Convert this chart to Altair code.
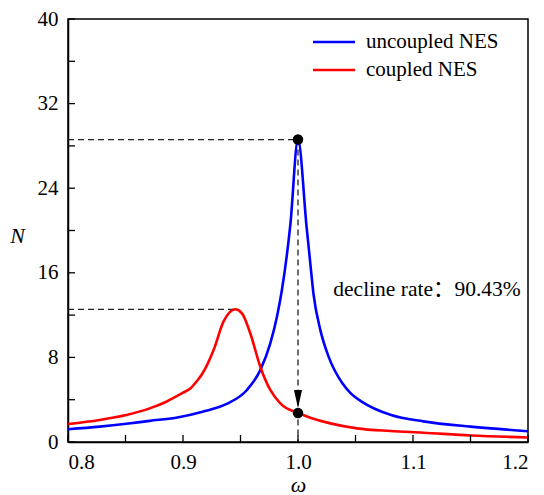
import altair as alt
import pandas as pd

# ---------------- data ----------------
omega_unc = [0.80, 0.8275, 0.8507, 0.871, 0.894, 0.917, 0.938, 0.9556, 0.9672,
             0.9759, 0.9817, 0.986, 0.9933, 1.0, 1.0075, 1.0107, 1.0136, 1.0194,
             1.0266, 1.0383, 1.0455, 1.0557, 1.0810, 1.109, 1.15, 1.20]
N_unc = [1.20, 1.45, 1.72, 2.00, 2.30, 2.87, 3.60, 4.92, 6.80,
         9.33, 11.85, 14.37, 20.5, 28.6, 20.3, 16.9, 13.9, 10.6,
         8.07, 5.60, 4.65, 3.80, 2.55, 1.95, 1.45, 1.02]

omega_cpl = [0.80, 0.8275, 0.8507, 0.871, 0.8855, 0.900, 0.9064, 0.9116, 0.9165, 0.9266,
             0.9353, 0.9455, 0.9513, 0.9585, 0.9672, 0.9759, 0.9846, 1.0, 1.0107,
             1.0281, 1.0513, 1.0803, 1.109, 1.15, 1.20]
N_cpl = [1.70, 2.08, 2.55, 3.18, 3.81, 4.66, 5.05, 5.70, 6.40, 8.70,
         11.4, 12.55, 12.17, 10.28, 7.12, 4.92, 3.66, 2.74, 2.30,
         1.76, 1.29, 1.04, 0.88, 0.62, 0.43]

series_names = ["uncoupled NES", "coupled NES"]
series_colors = ["#0000FF", "#FF0000"]

y_tick_values = [0, 4, 8, 12, 16, 20, 24, 28, 32, 36, 40]
y_label_values = [0, 8, 16, 24, 32, 40]
x_tick_values = [0.8, 0.85, 0.9, 0.95, 1.0, 1.05, 1.1, 1.15, 1.2]
x_label_values = [0.8, 0.9, 1.0, 1.1, 1.2]

annotation_text = "decline rate：90.43%"
annotation_pos = [1.0307, 14.37]

# ---------------- derived tables ----------------
curves = pd.concat([
    pd.DataFrame({"omega": omega_unc, "N": N_unc, "series": series_names[0], "order": range(len(omega_unc))}),
    pd.DataFrame({"omega": omega_cpl, "N": N_cpl, "series": series_names[1], "order": range(len(omega_cpl))}),
])

i_unc = N_unc.index(max(N_unc))
i_cpl = N_cpl.index(max(N_cpl))
peak_unc = (omega_unc[i_unc], N_unc[i_unc])
peak_cpl = (omega_cpl[i_cpl], N_cpl[i_cpl])
cpl_at_res = N_cpl[omega_cpl.index(peak_unc[0])]

dash_df = pd.DataFrame({
    "x": [x_tick_values[0], x_tick_values[0], peak_unc[0]],
    "x2": [peak_unc[0], peak_cpl[0], peak_unc[0]],
    "y": [peak_unc[1], peak_cpl[1], peak_unc[1]],
    "y2": [peak_unc[1], peak_cpl[1], 0],
})
dots_df = pd.DataFrame({"x": [peak_unc[0], peak_unc[0]], "y": [peak_unc[1], cpl_at_res]})
arrow_df = pd.DataFrame({"x": [peak_unc[0]], "y": [cpl_at_res]})
ann_df = pd.DataFrame({"x": [annotation_pos[0]], "y": [annotation_pos[1]], "t": [annotation_text]})
yt_df = pd.DataFrame({"v": y_tick_values})
xt_df = pd.DataFrame({"v": x_tick_values})

W, H = 460, 423
SERIF = "'Liberation Serif', 'Noto Sans CJK SC', serif"

xs = alt.Scale(domain=[0.8, 1.2], nice=False, zero=False)
ys = alt.Scale(domain=[0, 40], nice=False, zero=True)

ax_x = alt.Axis(values=x_label_values, format=".1f", title="ω",
                labelPadding=9, titleX=W / 2, titleY=49,
                titleBaseline="alphabetic", titleAlign="center")
ax_y = alt.Axis(values=y_label_values, title="N", titleAngle=0,
                labelPadding=10, titleX=-51, titleY=216,
                titleAlign="center", titleBaseline="middle")


def X(f):
    return alt.X(f, scale=xs, axis=ax_x, title="ω")


def Y(f):
    return alt.Y(f, scale=ys, axis=ax_y, title="N")


curve_layer = alt.Chart(curves).mark_line(strokeWidth=2.6, interpolate="monotone").encode(
    x=X("omega:Q"),
    y=Y("N:Q"),
    color=alt.Color("series:N", scale=alt.Scale(domain=series_names, range=series_colors), legend=None),
    order="order:Q",
)

dash_layer = alt.Chart(dash_df).mark_rule(color="#222222", strokeWidth=1.3, strokeDash=[6, 4]).encode(
    x=X("x:Q"), x2="x2:Q",
    y=Y("y:Q"), y2="y2:Q",
)

arrow_layer = alt.Chart(arrow_df).mark_point(
    shape="M-0.45,-1L0.45,-1L0,1Z", size=324, filled=True, color="black", opacity=1, yOffset=-14
).encode(x=X("x:Q"), y=Y("y:Q"))

dots_layer = alt.Chart(dots_df).mark_circle(size=110, color="black", opacity=1).encode(
    x=X("x:Q"), y=Y("y:Q"))

ann_layer = alt.Chart(ann_df).mark_text(
    font=SERIF, fontSize=21.5, align="left", baseline="middle", color="black"
).encode(x=X("x:Q"), y=Y("y:Q"), text="t:N")

ytick_layer = alt.Chart(yt_df).mark_rule(color="black", strokeWidth=1.3).encode(
    y=Y("v:Q"), x=alt.value(0), x2=alt.value(7))
xtick_layer = alt.Chart(xt_df).mark_rule(color="black", strokeWidth=1.3).encode(
    x=X("v:Q"), y=alt.value(H), y2=alt.value(H - 7))

# manual legend
leg = []
for i, (name, col) in enumerate(zip(series_names, series_colors)):
    yy = 23 + 28 * i
    leg.append(alt.Chart(pd.DataFrame({"a": [0]})).mark_rule(color=col, strokeWidth=2.6).encode(
        x=alt.value(245), x2=alt.value(287), y=alt.value(yy)))
    leg.append(alt.Chart(pd.DataFrame({"t": [name]})).mark_text(
        font=SERIF, fontSize=21, align="left", baseline="middle", color="black").encode(
        x=alt.value(298), y=alt.value(yy), text="t:N"))

chart = alt.layer(
    dash_layer, curve_layer, ytick_layer, xtick_layer, arrow_layer, dots_layer, ann_layer, *leg
).properties(
    width=W, height=H,
    autosize=alt.AutoSizeParams(type="none"),
    padding={"left": 68, "top": 19, "right": 16, "bottom": 53},
    background="white",
).configure_view(
    stroke="black", strokeWidth=1.5
).configure_axis(
    labelFont=SERIF, labelFontSize=21, labelColor="black",
    titleFont=SERIF, titleFontSize=22, titleFontStyle="italic", titleFontWeight="normal", titleColor="black",
    domainColor="black", domainWidth=1.5, ticks=False, grid=False,
)

chart.save("out.html", embed_options={"renderer": "svg", "actions": False})
